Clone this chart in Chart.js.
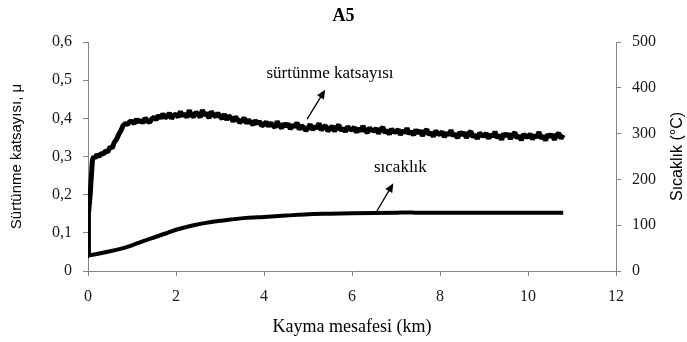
<!DOCTYPE html>
<html>
<head>
<meta charset="utf-8">
<script src="https://cdn.jsdelivr.net/npm/chart.js@4.4.1/dist/chart.umd.min.js"></script>
<style>
  body { margin: 0; background: #fff; }
  canvas { display: block; }
</style>
</head>
<body>
<canvas id="myChart" width="687" height="342"></canvas>
<script>
// Sürtünme katsayısı (sol eksen)
const frictionKm = [0, 0.01, 0.03, 0.05, 0.08, 0.10, 0.13, 0.16, 0.20, 0.25, 0.30, 0.35, 0.40, 0.45, 0.50, 0.55, 0.60, 0.65, 0.70, 0.75,
  0.80, 0.85, 0.90, 0.95,
  1.00, 1.05, 1.10, 1.15, 1.20, 1.25, 1.30, 1.35, 1.40, 1.45,
  1.50, 1.55, 1.60, 1.65, 1.70, 1.75, 1.80, 1.85, 1.90, 1.95,
  2.00, 2.05, 2.10, 2.15, 2.20, 2.25, 2.30, 2.35, 2.40, 2.45,
  2.50, 2.55, 2.60, 2.65, 2.70, 2.75, 2.80, 2.85, 2.90, 2.95,
  3.00, 3.05, 3.10, 3.15, 3.20, 3.25, 3.30, 3.35, 3.40, 3.45,
  3.50, 3.55, 3.60, 3.65, 3.70, 3.75, 3.80, 3.85, 3.90, 3.95,
  4.00, 4.05, 4.10, 4.15, 4.20, 4.25, 4.30, 4.35, 4.40, 4.45,
  4.50, 4.55, 4.60, 4.65, 4.70, 4.75, 4.80, 4.85, 4.90, 4.95,
  5.00, 5.05, 5.10, 5.15, 5.20, 5.25, 5.30, 5.35, 5.40, 5.45,
  5.50, 5.55, 5.60, 5.65, 5.70, 5.75, 5.80, 5.85, 5.90, 5.95,
  6.00, 6.05, 6.10, 6.15, 6.20, 6.25, 6.30, 6.35, 6.40, 6.45,
  6.50, 6.55, 6.60, 6.65, 6.70, 6.75, 6.80, 6.85, 6.90, 6.95,
  7.00, 7.05, 7.10, 7.15, 7.20, 7.25, 7.30, 7.35, 7.40, 7.45,
  7.50, 7.55, 7.60, 7.65, 7.70, 7.75, 7.80, 7.85, 7.90, 7.95,
  8.00, 8.05, 8.10, 8.15, 8.20, 8.25, 8.30, 8.35, 8.40, 8.45,
  8.50, 8.55, 8.60, 8.65, 8.70, 8.75, 8.80, 8.85, 8.90, 8.95,
  9.00, 9.05, 9.10, 9.15, 9.20, 9.25, 9.30, 9.35, 9.40, 9.45,
  9.50, 9.55, 9.60, 9.65, 9.70, 9.75, 9.80, 9.85, 9.90, 9.95,
  10.00, 10.05, 10.10, 10.15, 10.20, 10.25, 10.30, 10.35, 10.40, 10.45,
  10.50, 10.55, 10.60, 10.65, 10.70, 10.75, 10.80];
const frictionMu = [0.040, 0.150, 0.175, 0.200, 0.255, 0.290, 0.300, 0.296, 0.305, 0.300, 0.308, 0.306, 0.315, 0.312, 0.325, 0.322, 0.338, 0.345, 0.358, 0.368,
  0.382, 0.386, 0.384, 0.392,
  0.392, 0.386, 0.398, 0.390, 0.395, 0.388, 0.401, 0.393, 0.389, 0.399,
  0.403, 0.396, 0.408, 0.400, 0.412, 0.401, 0.405, 0.414, 0.399, 0.409,
  0.410, 0.403, 0.418, 0.406, 0.412, 0.402, 0.421, 0.408, 0.404, 0.416,
  0.411, 0.403, 0.422, 0.407, 0.415, 0.400, 0.418, 0.409, 0.404, 0.414,
  0.405, 0.399, 0.411, 0.396, 0.407, 0.401, 0.392, 0.404, 0.397, 0.389,
  0.394, 0.401, 0.387, 0.396, 0.390, 0.383, 0.395, 0.386, 0.392, 0.380,
  0.384, 0.391, 0.379, 0.388, 0.382, 0.376, 0.392, 0.381, 0.374, 0.386,
  0.379, 0.386, 0.372, 0.383, 0.377, 0.389, 0.371, 0.381, 0.376, 0.368,
  0.375, 0.384, 0.370, 0.379, 0.373, 0.387, 0.369, 0.377, 0.381, 0.367,
  0.373, 0.380, 0.366, 0.376, 0.383, 0.368, 0.374, 0.365, 0.379, 0.371,
  0.370, 0.377, 0.363, 0.374, 0.366, 0.380, 0.368, 0.362, 0.375, 0.369,
  0.367, 0.374, 0.360, 0.371, 0.377, 0.362, 0.369, 0.358, 0.372, 0.365,
  0.364, 0.371, 0.357, 0.368, 0.362, 0.374, 0.359, 0.366, 0.356, 0.370,
  0.361, 0.368, 0.354, 0.365, 0.371, 0.357, 0.363, 0.352, 0.367, 0.360,
  0.358, 0.365, 0.351, 0.362, 0.356, 0.369, 0.353, 0.360, 0.348, 0.364,
  0.356, 0.363, 0.349, 0.360, 0.366, 0.351, 0.357, 0.346, 0.362, 0.355,
  0.354, 0.361, 0.347, 0.358, 0.352, 0.365, 0.349, 0.356, 0.344, 0.360,
  0.353, 0.360, 0.346, 0.357, 0.363, 0.348, 0.355, 0.343, 0.359, 0.352,
  0.352, 0.359, 0.345, 0.356, 0.350, 0.364, 0.347, 0.354, 0.342, 0.358,
  0.351, 0.358, 0.344, 0.356, 0.361, 0.347, 0.357];

// Sıcaklık (sağ eksen, °C)
const tempKm = [0, 0.2, 0.5, 0.8, 1.0, 1.4, 1.8, 2.0, 2.4, 2.8, 3.2, 3.6, 4.0, 4.5, 5.0, 5.5, 6.0, 7.0, 7.2, 7.5, 8.0, 9.0, 10.0, 10.8];
const tempC = [34, 37, 43, 50, 56, 70, 83, 90, 100, 107, 112, 116, 118, 121, 124, 125, 126, 127, 128, 127, 127, 127, 127, 127];

const xTicks = [0, 2, 4, 6, 8, 10, 12];
const muTicks = [0, 0.1, 0.2, 0.3, 0.4, 0.5, 0.6];
const tempTicks = [0, 100, 200, 300, 400, 500];

const frictionData = frictionKm.map((x, i) => ({ x: x, y: frictionMu[i] }));
const tempData = tempKm.map((x, i) => ({ x: x, y: tempC[i] }));

const axisGray = '#868686';
const tickFont = { family: "'Liberation Serif', 'Times New Roman', serif", size: 16 };

function fixTicks(list) {
  return function (scale) {
    scale.ticks = list.map(v => ({ value: v }));
  };
}

// notlar: yazı + ok (koordinatlar veri biriminde)
const notes = [
  { text: 'sürtünme katsayısı', tx: 5.5, ty: 0.517, ax0: 4.98, ay0: 0.398, ax1: 5.39, ay1: 0.475 },
  { text: 'sıcaklık', tx: 7.1, ty: 0.272, ax0: 6.55, ay0: 0.154, ax1: 6.94, ay1: 0.230 }
];

const notesPlugin = {
  id: 'notes',
  afterDatasetsDraw(chart) {
    const ctx = chart.ctx;
    const xs = chart.scales.x;
    const ys = chart.scales.y;
    ctx.save();
    ctx.fillStyle = '#000';
    ctx.strokeStyle = '#000';
    ctx.font = "17px 'Liberation Serif', serif";
    ctx.textAlign = 'center';
    ctx.textBaseline = 'middle';
    notes.forEach(n => {
      ctx.fillText(n.text, xs.getPixelForValue(n.tx), ys.getPixelForValue(n.ty));
      const x0 = xs.getPixelForValue(n.ax0), y0 = ys.getPixelForValue(n.ay0);
      const x1 = xs.getPixelForValue(n.ax1), y1 = ys.getPixelForValue(n.ay1);
      const ang = Math.atan2(y1 - y0, x1 - x0);
      ctx.lineWidth = 1.3;
      ctx.beginPath();
      ctx.moveTo(x0, y0);
      ctx.lineTo(x1 - 6 * Math.cos(ang), y1 - 6 * Math.sin(ang));
      ctx.stroke();
      ctx.beginPath();
      ctx.moveTo(x1, y1);
      ctx.lineTo(x1 - 9 * Math.cos(ang) + 4 * Math.sin(ang), y1 - 9 * Math.sin(ang) - 4 * Math.cos(ang));
      ctx.lineTo(x1 - 9 * Math.cos(ang) - 4 * Math.sin(ang), y1 - 9 * Math.sin(ang) + 4 * Math.cos(ang));
      ctx.closePath();
      ctx.fill();
    });

    // sağ eksen başlığı (aşağıdan yukarı)
    const area = chart.chartArea;
    ctx.translate(678, (area.top + area.bottom) / 2);
    ctx.rotate(-Math.PI / 2);
    ctx.font = "16px 'Liberation Sans', Arial, sans-serif";
    ctx.fillText('Sıcaklık (°C)', 0, 0);
    ctx.restore();
  }
};

new Chart(document.getElementById('myChart'), {
  type: 'line',
  data: {
    datasets: [{
      label: 'sürtünme katsayısı',
      data: frictionData,
      yAxisID: 'y',
      borderColor: '#000',
      borderWidth: 5,
      borderJoinStyle: 'bevel',
      pointRadius: 0,
      tension: 0
    }, {
      label: 'sıcaklık',
      data: tempData,
      yAxisID: 'y1',
      borderColor: '#000',
      borderWidth: 4,
      pointRadius: 0,
      tension: 0.3
    }]
  },
  options: {
    responsive: false,
    animation: false,
    layout: { padding: 0 },
    plugins: {
      legend: { display: false },
      tooltip: { enabled: false },
      title: {
        display: true,
        text: 'A5',
        color: '#000',
        font: { family: "'Liberation Serif', 'Times New Roman', serif", size: 18, weight: 'bold', lineHeight: 1.2 },
        padding: { top: 6, bottom: 14.4 }
      }
    },
    scales: {
      x: {
        type: 'linear',
        min: 0,
        max: 12,
        afterBuildTicks: fixTicks(xTicks),
        afterFit(scale) { scale.height = 71; },
        border: { display: true, color: axisGray },
        grid: { drawOnChartArea: false, drawTicks: true, tickLength: 5, color: axisGray },
        ticks: { color: '#1a1a1a', font: tickFont, padding: 11, maxRotation: 0 },
        title: {
          display: true,
          text: 'Kayma mesafesi (km)',
          color: '#000',
          font: { family: "'Liberation Serif', 'Times New Roman', serif", size: 18, lineHeight: 1.2 },
          padding: { top: 0, bottom: 4 }
        }
      },
      y: {
        position: 'left',
        min: 0,
        max: 0.6,
        afterBuildTicks: fixTicks(muTicks),
        afterFit(scale) { scale.width = 88; },
        border: { display: true, color: axisGray },
        grid: { drawOnChartArea: false, drawTicks: true, tickLength: 5, color: axisGray },
        ticks: {
          color: '#1a1a1a',
          font: tickFont,
          padding: 11,
          callback: v => v === 0 ? '0' : v.toFixed(1).replace('.', ',')
        },
        title: {
          display: true,
          text: 'Sürtünme katsayısı, μ',
          color: '#000',
          font: { family: "'Liberation Sans', Arial, sans-serif", size: 15, lineHeight: 1.2 },
          padding: { top: 8, bottom: 0 }
        }
      },
      y1: {
        position: 'right',
        min: 0,
        max: 500,
        afterBuildTicks: fixTicks(tempTicks),
        afterFit(scale) { scale.width = 71; },
        border: { display: true, color: axisGray },
        grid: { drawOnChartArea: false, drawTicks: true, tickLength: 5, color: axisGray },
        ticks: { color: '#1a1a1a', font: tickFont, padding: 11 },
        title: { display: false }
      }
    }
  },
  plugins: [notesPlugin]
});
</script>
</body>
</html>
